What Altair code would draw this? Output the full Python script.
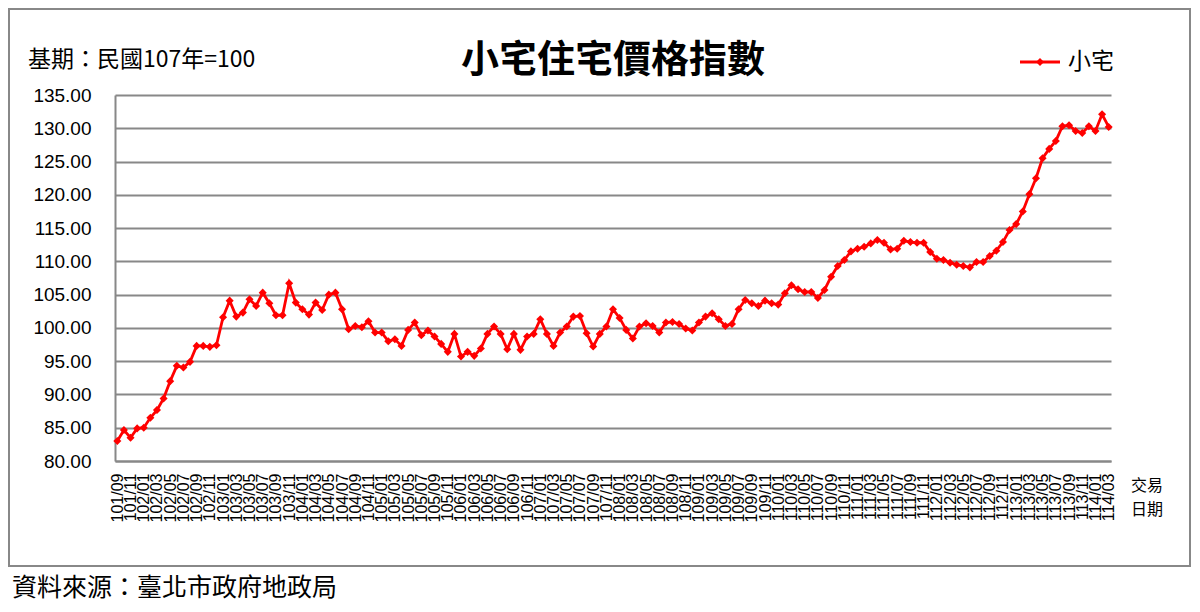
import altair as alt
import pandas as pd

# ---- data ----
title_text = "小宅住宅價格指數"
base_note = "基期：民國107年=100"
series_name = "小宅"
source_note = "資料來源：臺北市政府地政局"
axis_note_1 = "交易"
axis_note_2 = "日期"

months = []
for y in range(101, 115):
    for m in range(1, 13):
        if (y == 101 and m < 9) or (y == 114 and m > 3):
            continue
        months.append(f"{y}/{m:02d}")

tick_labels = months[::2]

values = [
    83.0, 84.65, 83.5, 84.9, 85.0, 86.5, 87.65, 89.4, 92.0, 94.3,
    94.05, 94.9, 97.3, 97.3, 97.15, 97.4, 101.6, 104.1, 101.7, 102.3,
    104.3, 103.3, 105.3, 103.7, 101.9, 101.9, 106.7, 103.8, 102.8, 102.0,
    103.8, 102.7, 105.0, 105.3, 102.8, 99.8, 100.3, 100.1, 101.0, 99.3,
    99.3, 98.0, 98.3, 97.3, 99.7, 100.8, 98.9, 99.6, 98.7, 97.6,
    96.4, 99.1, 95.7, 96.4, 95.8, 96.9, 99.1, 100.2, 99.1, 96.8,
    99.1, 96.7, 98.7, 99.1, 101.3, 99.1, 97.3, 99.3, 100.2, 101.7,
    101.8, 99.2, 97.2, 99.1, 100.2, 102.8, 101.5, 99.7, 98.4, 100.2,
    100.7, 100.3, 99.3, 100.8, 100.9, 100.6, 99.9, 99.6, 100.8, 101.7,
    102.2, 101.3, 100.3, 100.6, 102.8, 104.2, 103.7, 103.3, 104.1, 103.7,
    103.5, 105.2, 106.4, 105.8, 105.4, 105.4, 104.5, 105.7, 107.7, 109.3,
    110.2, 111.5, 111.9, 112.2, 112.7, 113.2, 112.8, 111.8, 111.9, 113.1,
    112.9, 112.8, 112.8, 111.4, 110.4, 110.2, 109.8, 109.5, 109.3, 109.1,
    109.9, 109.9, 110.8, 111.6, 112.9, 114.7, 115.6, 117.5, 120.1, 122.5,
    125.5, 126.9, 128.1, 130.3, 130.45, 129.6, 129.3, 130.3, 129.6, 132.1,
    130.2,
]

y_ticks = [80, 85, 90, 95, 100, 105, 110, 115, 120, 125, 130, 135]

df = pd.DataFrame({"month": months, "value": values, "series": series_name})

RED = "#FF0000"
GRAY = "#888888"
CJK = "Noto Sans CJK TC"
LAT = "Liberation Sans"

x_enc = alt.X(
    "month:O",
    sort=None,
    scale=alt.Scale(type="point", padding=0.35),
    axis=alt.Axis(
        values=tick_labels,
        title=None,
        labelAngle=270,
        labelFontSize=16,
        labelFont=LAT,
        labelColor="black",
        labelPadding=12,
        labelOverlap=False,
        ticks=False,
        tickSize=0,
        domainColor=GRAY,
        domainWidth=2,
        grid=False,
    ),
)
y_enc = alt.Y(
    "value:Q",
    scale=alt.Scale(domain=[80, 135], nice=False, zero=False),
    axis=alt.Axis(
        values=y_ticks,
        tickCount=len(y_ticks),
        labelOverlap=False,
        format=".2f",
        title=None,
        labelFontSize=19,
        labelFont=LAT,
        labelColor="black",
        labelPadding=24,
        ticks=False,
        tickSize=0,
        domainColor=GRAY,
        domainWidth=2,
        grid=True,
        gridColor=GRAY,
        gridWidth=2,
    ),
)

line = alt.Chart(df).mark_line(color=RED, strokeWidth=2.8).encode(x=x_enc, y=y_enc)
pts = alt.Chart(df).mark_point(shape="diamond", filled=True, color=RED, size=65, opacity=1).encode(
    x=alt.X("month:O", sort=None), y="value:Q"
)


def txt(s, x, y, size, font=CJK, weight="normal", align="left"):
    return alt.Chart(pd.DataFrame({"t": [s]})).mark_text(
        font=font, fontSize=size, fontWeight=weight, align=align, baseline="middle", color="black"
    ).encode(x=alt.value(x), y=alt.value(y), text="t:N")


one = pd.DataFrame({"k": [0]})
border = alt.Chart(one).mark_rect(filled=False, stroke=GRAY, strokeWidth=2).encode(
    x=alt.value(-106), x2=alt.value(1075), y=alt.value(-86), y2=alt.value(471)
)
leg_rule = alt.Chart(one).mark_rule(color=RED, strokeWidth=2.8).encode(
    x=alt.value(905), x2=alt.value(945), y=alt.value(-33)
)
leg_pt = alt.Chart(one).mark_point(shape="diamond", filled=True, color=RED, size=65, opacity=1).encode(
    x=alt.value(925), y=alt.value(-33)
)

chart = alt.layer(
    border,
    line,
    pts,
    txt(title_text, 498, -34, 38, weight="bold", align="center"),
    txt(base_note, -87, -35, 23),
    leg_rule,
    leg_pt,
    txt(series_name, 953, -33, 23),
    txt(axis_note_1, 1032, 391, 16, align="center"),
    txt(axis_note_2, 1032, 415, 16, align="center"),
    txt(source_note, -103, 493, 25),
).properties(
    width=996,
    height=366,
    autosize=alt.AutoSizeParams(type="none"),
    padding={"left": 107, "top": 87, "right": 81, "bottom": 143},
    background="white",
).configure_view(strokeWidth=0)

chart.save("out.html", embed_options={"renderer": "svg", "actions": False})
